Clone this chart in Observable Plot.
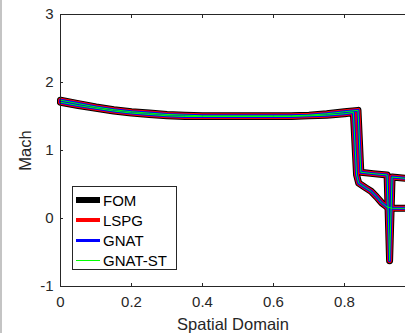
<!DOCTYPE html>
<html>
<head>
<meta charset="utf-8">
<script src="https://cdn.jsdelivr.net/npm/d3@7"></script>
<script src="https://cdn.jsdelivr.net/npm/@observablehq/plot@0.6"></script>
<style>
  html, body { margin: 0; padding: 0; background: #fff; }
  #wrap { position: relative; width: 405px; height: 333px; overflow: hidden; font-family: "Liberation Sans", Arial, sans-serif; }
  #edge { position: absolute; left: 0; top: 0; width: 2px; height: 333px; background: #c4c4c4; }
  #legend { position: absolute; left: 72px; top: 186px; width: 103px; height: 82px; background: #fff; border: 1px solid #262626; }
  .item { position: absolute; left: 3px; height: 20px; display: flex; align-items: center; font-size: 15px; color: #000; }
  .sw { width: 24px; margin-right: 3px; }
  svg g[aria-label="x-axis label"] text, svg g[aria-label="y-axis label"] text { font-size: 16.5px; }
</style>
</head>
<body>
<div id="wrap"><div id="edge"></div></div>
<script>
// Curve 1: earlier shock
const x1 = [0, 0.05, 0.1, 0.15, 0.2, 0.25, 0.3, 0.35, 0.4, 0.5, 0.6, 0.65, 0.7, 0.75, 0.8, 0.825, 0.834, 0.84, 0.86, 0.875, 0.89, 0.905, 0.92, 0.935, 0.972];
const m1 = [1.71, 1.66, 1.62, 1.58, 1.55, 1.53, 1.51, 1.50, 1.50, 1.50, 1.50, 1.50, 1.51, 1.52, 1.54, 1.56, 0.64, 0.52, 0.45, 0.40, 0.32, 0.23, 0.17, 0.15, 0.15];
// Curve 2: later shock with spike
const x2 = [0, 0.05, 0.1, 0.15, 0.2, 0.25, 0.3, 0.35, 0.4, 0.5, 0.6, 0.65, 0.7, 0.75, 0.8, 0.838, 0.846, 0.88, 0.92, 0.927, 0.934, 0.972];
const m2 = [1.74, 1.69, 1.64, 1.60, 1.57, 1.55, 1.53, 1.52, 1.51, 1.51, 1.51, 1.51, 1.52, 1.54, 1.57, 1.59, 0.68, 0.66, 0.64, -0.62, 0.61, 0.59];

const methods = ["FOM", "LSPG", "GNAT", "GNAT-ST"];
const colors = ["#000000", "#ff0000", "#0000ff", "#00ff00"];
const widths = [7, 5, 3, 1];
const legendWidths = [6, 4, 3, 1];

const xTicks = [0, 0.2, 0.4, 0.6, 0.8];
const yTicks = [-1, 0, 1, 2, 3];

const rows = [];
for (const m of methods) {
  x1.forEach((x, i) => rows.push({method: m, curve: 1, x, y: m1[i]}));
  x2.forEach((x, i) => rows.push({method: m, curve: 2, x, y: m2[i]}));
}

const axisColor = "#262626";
const fmt = d => String(d);

const chart = Plot.plot({
  width: 405,
  height: 333,
  marginLeft: 60,
  marginRight: 0,
  marginTop: 14,
  marginBottom: 47,
  style: {fontFamily: "Liberation Sans, Arial, sans-serif", fontSize: "15px", color: axisColor, background: "transparent"},
  x: {domain: [0, 345 / 355]},
  y: {domain: [-1, 3]},
  marks: [
    ...methods.map((m, k) => Plot.line(rows.filter(r => r.method === m), {
      x: "x", y: "y", z: "curve", stroke: colors[k], strokeWidth: widths[k],
      strokeLinejoin: "round", strokeLinecap: "round"
    })),
    Plot.ruleY([-1], {stroke: axisColor}),
    Plot.ruleY([3], {stroke: axisColor}),
    Plot.ruleX([0], {stroke: axisColor}),
    Plot.axisX({ticks: xTicks, tickSize: -3, tickPadding: 13, tickFormat: fmt, fontSize: 15,
      label: "Spatial Domain", labelAnchor: "center", labelArrow: "none", labelOffset: 43, stroke: axisColor}),
    Plot.axisX({anchor: "top", ticks: xTicks, tickSize: -3, tickFormat: () => "", label: null, stroke: axisColor}),
    Plot.axisY({ticks: yTicks, tickSize: -3, tickPadding: 10, tickFormat: fmt, fontSize: 15,
      label: "Mach", labelAnchor: "center", labelArrow: "none", labelOffset: 41, stroke: axisColor})
  ]
});
const wrap = document.getElementById("wrap");
chart.style.position = "absolute";
chart.style.left = "0";
chart.style.top = "0";
wrap.appendChild(chart);

const legend = document.createElement("div");
legend.id = "legend";
methods.forEach((m, k) => {
  const it = document.createElement("div");
  it.className = "item";
  it.style.top = (3 + k * 20) + "px";
  const sw = document.createElement("div");
  sw.className = "sw";
  sw.style.height = legendWidths[k] + "px";
  sw.style.background = colors[k];
  const t = document.createElement("span");
  t.textContent = m;
  it.appendChild(sw);
  it.appendChild(t);
  legend.appendChild(it);
});
wrap.appendChild(legend);
</script>
</body>
</html>
